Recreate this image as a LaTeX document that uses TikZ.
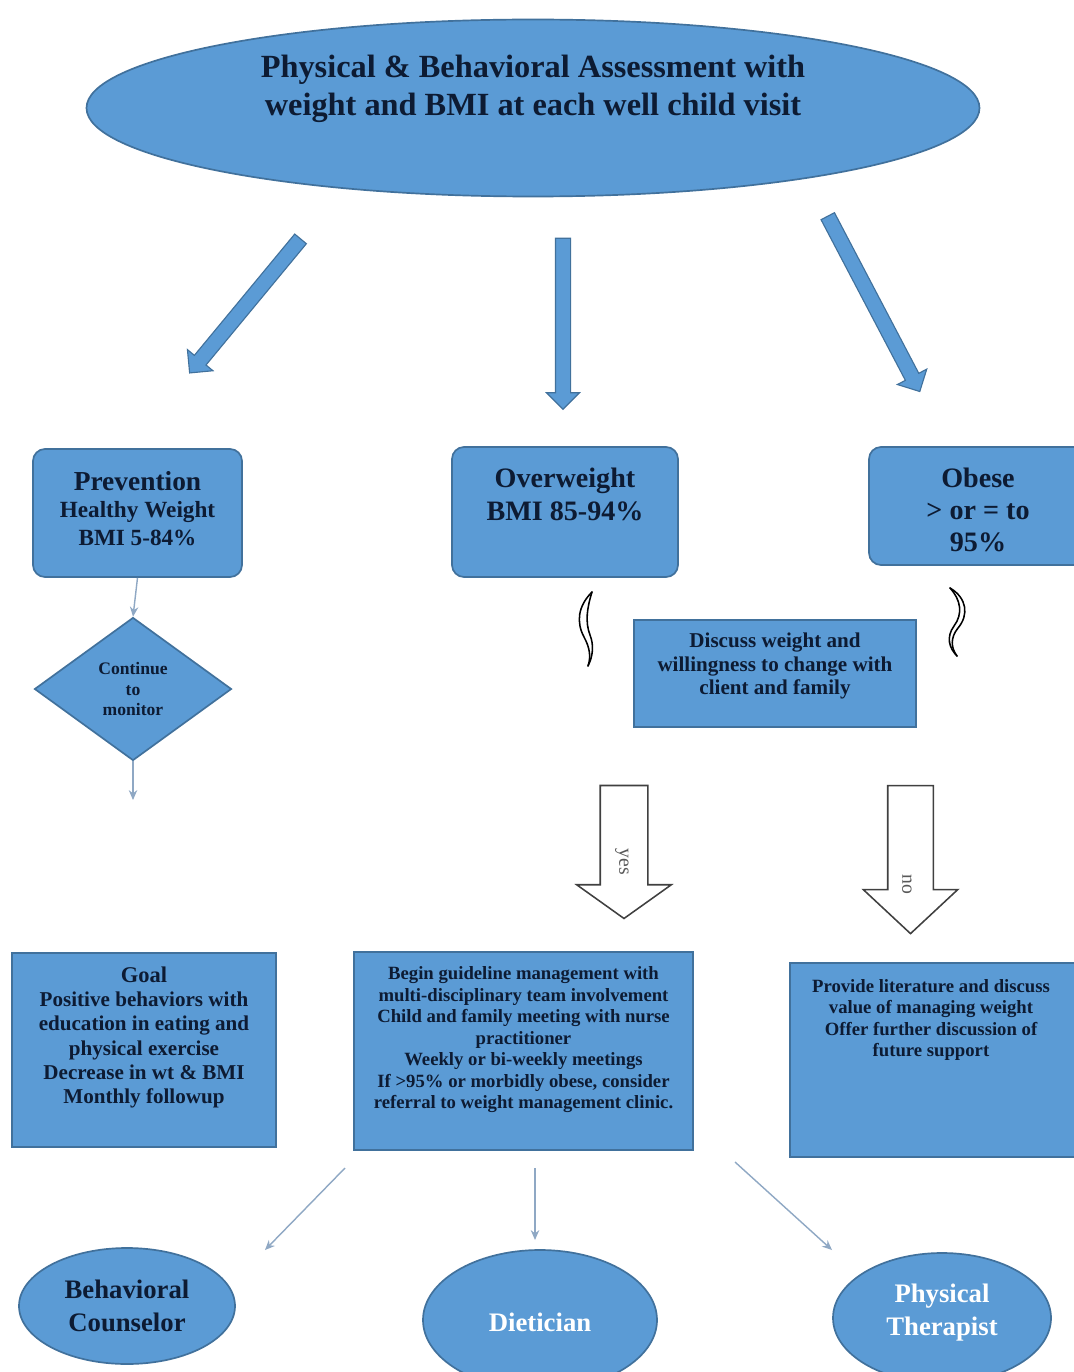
\documentclass[tikz,border=0pt]{standalone}
\usepackage{fontspec}
\setmainfont{Liberation Serif}
\usetikzlibrary{shapes.geometric,shapes.arrows,arrows.meta}
\definecolor{bfill}{HTML}{5B9BD5}
\definecolor{bdraw}{HTML}{41719C}
\definecolor{tdark}{HTML}{0D1B33}
\definecolor{thinc}{HTML}{8FA8C4}
\begin{document}
\begin{tikzpicture}[x=0.025cm,y=-0.025cm,
  shapebox/.style={draw=bdraw, fill=bfill, line width=1.2pt, inner sep=0pt},
  lbl/.style={text=tdark, font=\bfseries, align=center, inner sep=0pt},
  wlbl/.style={text=white, font=\bfseries, align=center, inner sep=0pt},
  blockarrow/.style={single arrow, draw=bdraw, fill=bfill, line width=0.8pt, inner xsep=0pt,
     inner ysep=0.175cm, single arrow head extend=0.225cm},
  hollow/.style={single arrow, draw=black!75, fill=white, line width=1.1pt, inner xsep=0pt},
  thinarrow/.style={draw=thinc, line width=1pt, -{Stealth[length=7pt,width=6pt]}},
  curly/.style={draw=black, line width=1.1pt, line cap=round}]
\useasboundingbox (0,0) rectangle (1073,1372);
\fill[white] (0,0) rectangle (1073,1372);

% top ellipse
\node[shapebox, ellipse, minimum width={893*0.025cm}, minimum height={177*0.025cm}] (top) at (533,108) {};
\node[lbl, font=\bfseries\fontsize{23}{27.5}\selectfont] (toptext) at (533,89)
  {Physical \& Behavioral Assessment with\\weight and BMI at each well child visit};

% block arrows
\coordinate (a1) at (247.5,303);
\coordinate (a2) at (563,320);
\coordinate (a3) at (872,300.5);
\node[blockarrow, minimum height={174*0.025cm}, rotate=230.4] (barL) at (a1) {};
\node[blockarrow, minimum height={171*0.025cm}, rotate=270] (barM) at (a2) {};
\node[blockarrow, minimum height={198*0.025cm}, rotate=-62.3] (barR) at (a3) {};

% level boxes
\node[shapebox, rounded corners=0.3cm, minimum width={209*0.025cm}, minimum height={128*0.025cm}] (prev) at (137.5,513) {};
\node[lbl, font=\bfseries\fontsize{19.5}{21}\selectfont] (prevt1) at (137.5,481) {Prevention};
\node[lbl, font=\bfseries\fontsize{16.5}{20}\selectfont] (prevt2) at (137.5,524) {Healthy Weight\\BMI 5-84\%};

\node[shapebox, rounded corners=0.3cm, minimum width={226*0.025cm}, minimum height={130*0.025cm}] (over) at (565,512) {};
\node[lbl, font=\bfseries\fontsize{20}{23.5}\selectfont] (overt) at (565,494) {Overweight\\BMI 85-94\%};

\node[shapebox, rounded corners=0.3cm, minimum width={225*0.025cm}, minimum height={118*0.025cm}] (obese) at (981.5,506) {};
\node[lbl, font=\bfseries\fontsize{20}{22.8}\selectfont] (obeset) at (978,510) {Obese\\> or = to\\95\%};

% diamond
\node[shapebox, diamond, aspect=1.38, minimum width={197*0.025cm}, minimum height={143*0.025cm}] (dia) at (133,689) {};
\node[lbl, font=\bfseries\fontsize{12.5}{14.5}\selectfont] (diat) at (133,689) {Continue\\to\\monitor};
\coordinate (diaout) at (133,800);
\draw[thinarrow] (prev.south) -- (dia.north);
\draw[thinarrow] (dia.south) -- (diaout);

% curly arrows
\draw[curly] (592,592) .. controls (578,606) and (576,622) .. (584,637) .. controls (590,648) and (591,657) .. (588,666);
\draw[curly] (592,592) .. controls (587,608) and (585,622) .. (590,635) .. controls (594,645) and (593,656) .. (588,666);
\draw[curly] (950,588) .. controls (967,598) and (969,615) .. (958,628) .. controls (950,638) and (951,648) .. (957,656);
\draw[curly] (950,588) .. controls (961,600) and (963,614) .. (954,626) .. controls (946,637) and (949,648) .. (957,656);

% discuss box
\node[shapebox, minimum width={282*0.025cm}, minimum height={107*0.025cm}] (disc) at (775,673.5) {};
\node[lbl, font=\bfseries\fontsize{15}{17}\selectfont] (disct) at (775,666) {Discuss weight and\\willingness to change with\\client and family};

% hollow arrows
\node[hollow, minimum height={133*0.025cm}, inner ysep=0.575cm, single arrow head extend=0.5875cm, single arrow tip angle=109, rotate=-90] (yesar) at (624,843.5) {};
\node[rotate=-90, font=\fontsize{14}{16}\selectfont, text=black!65, inner sep=0pt] (yest) at (622,862) {yes};
\node[hollow, minimum height={148*0.025cm}, inner ysep=0.55cm, single arrow head extend=0.6125cm, single arrow tip angle=94, rotate=-90] (noar) at (910.5,849) {};
\node[rotate=-90, font=\fontsize{14}{16}\selectfont, text=black!65, inner sep=0pt] (not) at (907,884) {no};

% bottom boxes
\node[shapebox, minimum width={264*0.025cm}, minimum height={194*0.025cm}] (goal) at (144,1050) {};
\node[lbl, font=\bfseries\fontsize{16}{17}\selectfont] (goalh) at (144,975) {Goal};
\node[lbl, font=\bfseries\fontsize{15}{17.4}\selectfont] (goalt) at (144,1050) {Positive behaviors with\\education in eating and\\physical exercise\\Decrease in wt \& BMI\\Monthly followup};

\node[shapebox, minimum width={339*0.025cm}, minimum height={198*0.025cm}] (begin) at (523.5,1051) {};
\node[lbl, font=\bfseries\fontsize{13.3}{15.3}\selectfont] (begint) at (523.5,1040) {Begin guideline management with\\multi-disciplinary team involvement\\Child and family meeting with nurse\\practitioner\\Weekly or bi-weekly meetings\\If >95\% or morbidly obese, consider\\referral to weight management clinic.};

\node[shapebox, minimum width={290*0.025cm}, minimum height={194*0.025cm}] (prov) at (935,1060) {};
\node[lbl, font=\bfseries\fontsize{13.3}{15.3}\selectfont] (provt) at (931,1020) {Provide literature and discuss\\value of managing weight\\Offer further discussion of\\future support};

% specialists
\node[shapebox, ellipse, minimum width={216*0.025cm}, minimum height={116*0.025cm}] (beh) at (127,1306) {};
\node[lbl, font=\bfseries\fontsize{19}{23.5}\selectfont] (beht) at (127,1306) {Behavioral\\Counselor};
\node[shapebox, ellipse, minimum width={234*0.025cm}, minimum height={140*0.025cm}] (diet) at (540,1320) {};
\node[wlbl, font=\bfseries\fontsize{19}{23.5}\selectfont] (dietT) at (540,1322) {Dietician};
\node[shapebox, ellipse, minimum width={218*0.025cm}, minimum height={130*0.025cm}] (pt) at (942,1318) {};
\node[wlbl, font=\bfseries\fontsize{19}{23.5}\selectfont] (ptt) at (942,1313) {Physical\\Therapist};

\coordinate (s1) at (345,1168);
\coordinate (e1) at (265,1250);
\coordinate (s2) at (535,1168);
\coordinate (e2) at (535,1240);
\coordinate (s3) at (735,1162);
\coordinate (e3) at (832,1250);
\draw[thinarrow] (s1) -- (e1);
\draw[thinarrow] (s2) -- (e2);
\draw[thinarrow] (s3) -- (e3);
\end{tikzpicture}
\end{document}
